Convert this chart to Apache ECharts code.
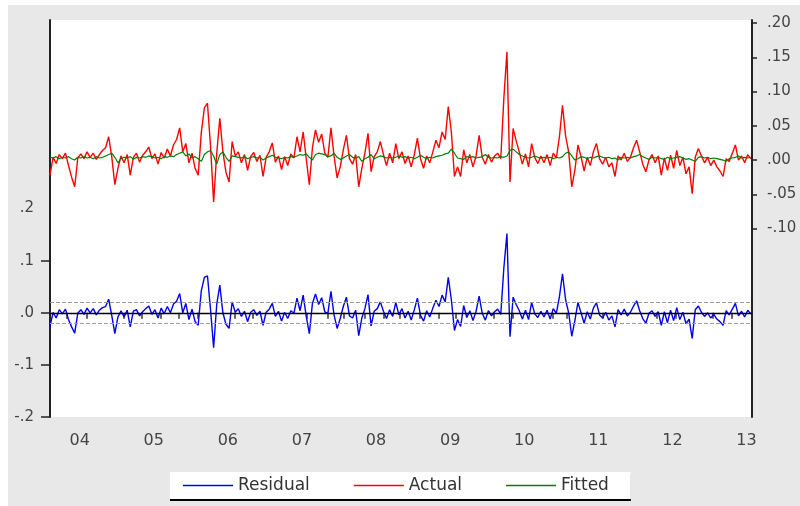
<!DOCTYPE html>
<html><head><meta charset="utf-8">
<script src="https://cdn.jsdelivr.net/npm/echarts@6/dist/echarts.min.js"></script>
<style>html,body{margin:0;padding:0;background:#fff}#c{width:800px;height:506px}</style>
</head><body><div id="c"></div>
<script>
// sampling: semi-monthly observations starting mid-2003
const startYear = 2003.6;
const perYear = 24;
const endYear = 2013.074;

const actual = [
-.022,.004,-.005,.008,.002,.010,-.008,-.025,-.039,.003,.009,.002,
.012,.004,.010,.001,.008,.014,.018,.034,.005,-.036,-.012,.006,
-.004,.008,-.022,.004,.010,-.003,.007,.012,.019,.002,.009,-.006,
.011,.003,.016,.006,.022,.030,.047,.012,.024,-.004,.010,-.012,
-.022,.040,.076,.083,.020,-.061,.010,.061,.012,-.018,-.032,.027,
.006,.012,-.004,.008,-.015,.005,.011,-.002,.007,-.024,.004,.012,
.025,-.003,.006,-.014,.005,-.008,.009,.003,.034,.012,.041,.002,
-.036,.018,.044,.026,.038,.010,.004,.047,.006,-.026,-.010,.015,
.036,.002,-.006,.008,-.039,-.012,.010,.039,-.017,.005,.012,.027,
.008,-.008,.010,-.004,.024,.002,.012,-.005,.006,-.010,.008,.032,
.002,-.012,.006,-.004,.012,.029,.018,.041,.030,.078,.041,-.024,
-.010,-.024,.015,-.004,.008,-.010,.006,.036,.004,-.006,.008,-.003,
.006,.010,.002,.090,.158,-.032,.046,.028,.012,-.006,.009,-.010,
.024,.004,-.005,.006,-.004,.008,-.008,.010,.003,.034,.080,.035,
.012,-.039,-.015,.022,.005,-.016,.004,-.008,.012,.024,.002,-.006,
.004,-.010,-.004,-.024,.006,.000,.010,-.002,.004,.018,.029,.012,
-.006,-.017,.000,.008,-.004,.006,-.022,.003,-.015,.007,-.012,.014,
-.008,.004,-.020,-.010,-.049,.004,.017,.006,-.004,.004,-.008,.000,
-.010,-.016,-.024,.002,-.002,.010,.022,.000,.006,-.004,.008,.002
];

const fitted = [
.004,.003,.005,.002,.004,.003,.005,.002,.000,.004,.003,.005,
.003,.004,.002,.005,.003,.004,.006,.008,.010,.004,-.004,.002,
.004,.003,.005,.001,.004,.003,.005,.004,.006,.005,.003,.004,
.002,.005,.004,.006,.005,.008,.010,.012,.006,.009,.003,.005,
.002,-.002,.008,.012,.014,.006,-.006,.008,.012,.004,-.002,.006,
.005,.004,.003,.005,.002,.004,.005,.003,.004,.000,.003,.005,
.007,.004,.003,.002,.004,.003,.005,.004,.006,.008,.007,.009,
.004,.000,.008,.010,.009,.008,.005,.006,.010,.004,.001,.003,
.006,.008,.004,.003,.005,-.002,.002,.004,.008,.002,.004,.006,
.005,.003,.004,.003,.004,.006,.004,.005,.003,.004,.002,.004,
.007,.004,.002,.004,.003,.005,.006,.007,.009,.010,.016,.010,
.003,.002,.001,.005,.004,.005,.003,.004,.005,.008,.004,.003,
.004,.003,.005,.004,.006,.014,.016,.012,.008,.006,.004,.003,
.004,.006,.004,.003,.004,.003,.004,.002,.004,.003,.005,.010,
.012,.006,.000,.002,.005,.004,.002,.004,.003,.005,.006,.004,
.003,.004,.002,.003,.000,.004,.003,.004,.003,.005,.006,.008,
.005,.003,.001,.004,.003,.004,.002,.001,.004,.002,.003,.004,
.005,.003,.001,.002,.000,-.002,.004,.005,.003,.004,.002,.003,
.002,.001,.000,-.002,.002,.003,.004,.006,.003,.004,.003,.004
];

const yearTicks = [2004,2005,2006,2007,2008,2009,2010,2011,2012,2013];
const yearLabels = ['04','05','06','07','08','09','10','11','12','13'];
const xTickYears = [2003.83,2004.09,2004.60,2004.84,2005.10,2005.34,2005.60,2006.10,2006.34,
  2007.07,2007.35,2007.57,2007.85,2008.11,2008.32,2008.59,2008.85,2009.07,2009.59,2009.85,
  2010.38,2010.58,2011.06,2011.79,2012.04,2012.55,2012.80];
const leftTicks = [0.2,0.1,0,-0.1,-0.2];
const leftLabels = ['.2','.1','.0','-.1','-.2'];
const leftTickMarks = [0.1,0,-0.1,-0.2];
const rightTicks = [0.2,0.15,0.1,0.05,0,-0.05,-0.1];
const rightLabels = ['.20','.15','.10','.05','.00','-.05','-.10'];
const seBand = 0.02;

const xOf = i => startYear + i / perYear;
const residual = actual.map((a, i) => +(a - fitted[i]).toFixed(4));
const pairs = arr => arr.map((v, i) => [xOf(i), v]);

const font = 'DejaVu Sans';
const chart = echarts.init(document.getElementById('c'), null, {renderer: 'canvas'});
chart.setOption({
  animation: false,
  backgroundColor: '#e8e8e8',
  graphic: [
    {type: 'rect', shape: {x: 0, y: 0, width: 800, height: 5}, style: {fill: '#fff'}, silent: true},
    {type: 'rect', shape: {x: 0, y: 0, width: 8, height: 506}, style: {fill: '#fff'}, silent: true}
  ],
  grid: {left: 50, right: 48, top: 20, bottom: 89, show: true, backgroundColor: '#fff', borderWidth: 0},
  legend: {
    left: 170, top: 472,
    data: ['Residual', 'Actual', 'Fitted'],
    icon: 'rect', itemWidth: 50, itemHeight: 1.5, itemGap: 44,
    padding: [5, 22, 5, 13],
    backgroundColor: '#fff',
    shadowColor: '#000', shadowOffsetY: 2, shadowOffsetX: 0, shadowBlur: 0,
    textStyle: {fontFamily: font, fontSize: 17, color: '#333'}
  },
  xAxis: {
    type: 'value', min: startYear, max: endYear,
    splitLine: {show: false},
    axisLine: {show: false},
    axisTick: {show: true, customValues: xTickYears, length: 6, lineStyle: {color: '#333', width: 1.5}},
    axisLabel: {customValues: yearTicks, formatter: v => yearLabels[yearTicks.indexOf(v)],
      margin: 16, fontFamily: font, fontSize: 16, color: '#444'}
  },
  yAxis: [
    {
      type: 'value', position: 'left', min: -0.2, max: 0.562,
      splitLine: {show: false},
      axisLine: {show: true, lineStyle: {color: '#222', width: 2}},
      axisTick: {show: true, customValues: leftTickMarks, length: 9, lineStyle: {color: '#222', width: 1.5}},
      axisLabel: {customValues: leftTicks, formatter: v => leftLabels[leftTicks.indexOf(v)],
        margin: 16, fontFamily: font, fontSize: 15, color: '#444'}
    },
    {
      type: 'value', position: 'right', min: -0.375, max: 0.2044,
      splitLine: {show: false},
      axisLine: {show: true, lineStyle: {color: '#222', width: 2}},
      axisTick: {show: true, customValues: rightTicks, length: 5, lineStyle: {color: '#222', width: 1.5}},
      axisLabel: {customValues: rightTicks, formatter: v => rightLabels[rightTicks.indexOf(v)],
        margin: 15, fontFamily: font, fontSize: 15, color: '#444'}
    }
  ],
  series: [
    {
      name: 'Residual', type: 'line', yAxisIndex: 0, data: pairs(residual),
      symbol: 'none', color: '#0000ee', lineStyle: {color: '#0000ee', width: 1.4},
      markLine: {
        silent: true, symbol: ['none', 'none'], label: {show: false},
        data: [
          {yAxis: 0, lineStyle: {color: '#000', type: 'solid', width: 1.4}},
          {yAxis: seBand, lineStyle: {color: '#9a9a9a', type: 'dashed', width: 1}},
          {yAxis: -seBand, lineStyle: {color: '#9a9a9a', type: 'dashed', width: 1}}
        ]
      }
    },
    {
      name: 'Actual', type: 'line', yAxisIndex: 1, data: pairs(actual),
      symbol: 'none', color: '#ff0000', lineStyle: {color: '#ff0000', width: 1.4}
    },
    {
      name: 'Fitted', type: 'line', yAxisIndex: 1, data: pairs(fitted),
      symbol: 'none', color: '#008000', lineStyle: {color: '#008000', width: 1.2}
    }
  ]
});
</script>
</body></html>
